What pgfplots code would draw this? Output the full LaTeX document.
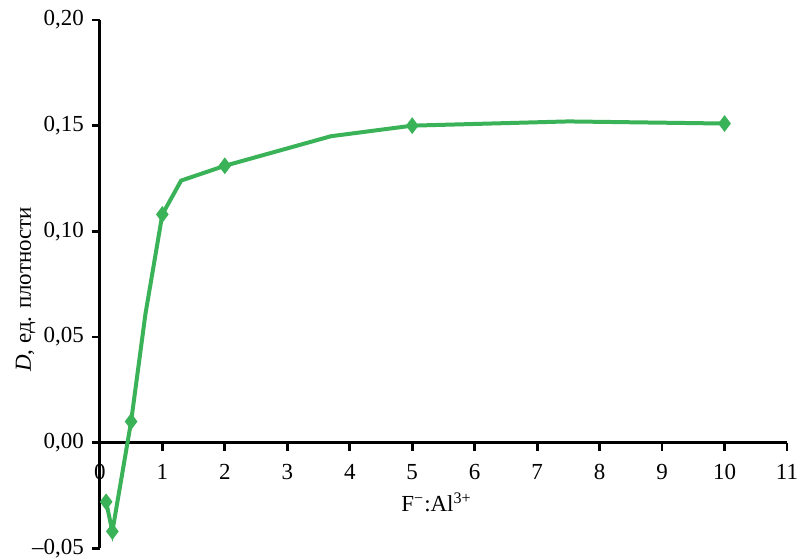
\documentclass[border=0pt]{standalone}
\usepackage{fontspec}
\setmainfont{Liberation Serif}
\usepackage{pgfplots}
\pgfplotsset{compat=1.18}
\definecolor{lgreen}{RGB}{58,178,88}
\begin{document}
\fontsize{11.5}{13}\selectfont
\begin{tikzpicture}
\begin{axis}[
  scale only axis,
  width=344pt, height=264.5pt,
  xmin=0, xmax=11, ymin=-0.05, ymax=0.20,
  axis x line=middle, axis y line=left,
  axis line style={-, line width=1.4pt},
  hide obscured x ticks=false, hide obscured y ticks=false,
  xtick={0,1,2,3,4,5,6,7,8,9,10,11},
  xticklabels={0,1,2,3,4,5,6,7,8,9,10,11},
  ytick={-0.05,0,0.05,0.10,0.15,0.20},
  yticklabels={{–0,05},{0,00},{0,05},{0,10},{0,15},{0,20}},
  tick align=outside,
  major tick length=4pt,
  tick style={line width=1.4pt, black},
  ticklabel style={font=\fontsize{11.5}{13}\selectfont},
  xticklabel style={yshift=-3pt},
  xlabel={F\textsuperscript{−}:Al\textsuperscript{3+}},
  ylabel={\textit{D}, ед. плотности},
  xlabel style={at={(axis description cs:0.49,0.087)}, anchor=center},
  ylabel style={at={(axis description cs:-0.108,0.49)}, anchor=center},
  clip=false,
]
\addplot[color=lgreen, line width=2pt, mark=diamond*, mark size=3.8pt,
  mark options={fill=lgreen, draw=lgreen, line width=0.5pt},
  mark indices={1,2,3,5,7,9,11}] coordinates {
  (0.1,-0.028) (0.2,-0.042) (0.5,0.010) (0.73,0.061) (1,0.108)
  (1.3,0.124) (2,0.131) (3.7,0.145) (5,0.150) (7.5,0.152) (10,0.151)
};
\end{axis}
\pgfresetboundingbox
\path ([xshift=-50pt,yshift=-5pt]current axis.south west) rectangle ([xshift=6.5pt,yshift=10pt]current axis.north east);
\end{tikzpicture}
\end{document}
